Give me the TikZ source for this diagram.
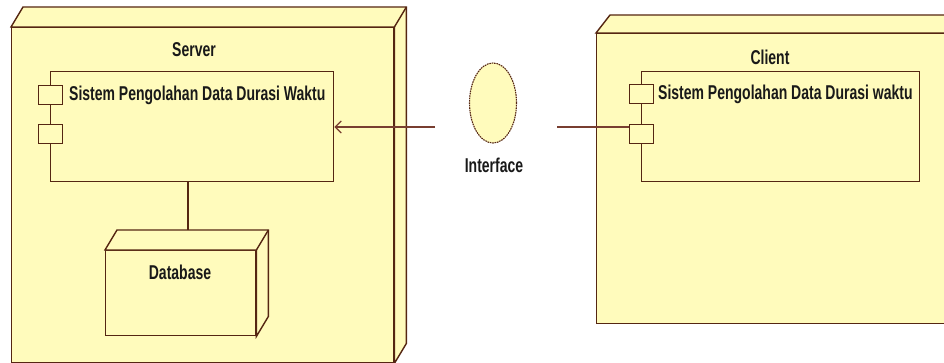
\documentclass[tikz,border=0pt]{standalone}
\usepackage{fontspec}
\setmainfont{Liberation Sans}[FakeStretch=0.70]
\usetikzlibrary{arrows.meta,shapes.geometric}

\definecolor{nodefill}{RGB}{255,251,188}
\definecolor{edgebrown}{RGB}{85,38,18}
\definecolor{wirebrown}{RGB}{120,62,48}

\tikzset{
  boxline/.style={draw=edgebrown, line width=1.4pt, fill=nodefill, line join=miter},
  frontface/.style={boxline, anchor=north west, inner sep=0pt},
  lbl/.style={font=\fontsize{20}{20}\selectfont\bfseries, text=black!90, inner sep=0pt},
  port/.style={boxline, anchor=north west, inner sep=0pt, minimum width=24pt, minimum height=19pt},
  wireline/.style={draw=wirebrown, line width=1.4pt},
}

\begin{document}
\begin{tikzpicture}[x=1pt,y=-1pt]
\useasboundingbox (0,0) rectangle (944,363);
\clip (0,0) rectangle (944,363);

% ---------- Server node ----------
\node[frontface, minimum width=382pt, minimum height=335pt] (server) at (11,27) {};
\draw[boxline] (server.north west) -- ([shift={(12,-20)}]server.north west)
  -- ([shift={(12,-20)}]server.north east) -- ([shift={(12,-20)}]server.south east)
  -- (server.south east) -- (server.north east) -- cycle;
\draw[boxline] (server.north east) -- ([shift={(12,-20)}]server.north east);
\node[lbl, anchor=base] (serverlbl) at (194,57) {Server};

% server component
\node[frontface, minimum width=283pt, minimum height=110pt] (scomp) at (50,71) {};
\node[port] (sport1) at (38,85) {};
\node[port] (sport2) at (38,124) {};
\node[lbl, anchor=base west] (scomptext) at (69,101) {Sistem Pengolahan Data Durasi Waktu};

% ---------- Database node ----------
\node[frontface, minimum width=150pt, minimum height=85pt] (db) at (105,250) {};
\draw[boxline] (db.north west) -- ([shift={(12,-20)}]db.north west)
  -- ([shift={(12,-20)}]db.north east) -- ([shift={(12,-20)}]db.south east)
  -- (db.south east) -- (db.north east) -- cycle;
\draw[boxline] (db.north east) -- ([shift={(12,-20)}]db.north east);
\node[lbl, anchor=base] (dblbl) at (180,279) {Database};
\coordinate (dbtop) at (188,230);
\draw[boxline] (scomp.south -| dbtop) -- (dbtop);

% ---------- Client node ----------
\node[frontface, minimum width=380pt, minimum height=290pt] (client) at (596,33) {};
\draw[boxline] (client.north west) -- ([shift={(14,-18)}]client.north west)
  -- ([shift={(14,-18)}]client.north east) -- ([shift={(14,-18)}]client.south east)
  -- (client.south east) -- (client.north east) -- cycle;
\node[lbl, anchor=base] (clientlbl) at (770,65) {Client};

% client component
\node[frontface, minimum width=278pt, minimum height=110pt] (ccomp) at (641,71) {};
\node[port] (cport1) at (629,84) {};
\node[port] (cport2) at (629,124) {};
\node[lbl, anchor=base west] (ccomptext) at (658,100) {Sistem Pengolahan Data Durasi waktu};

% ---------- Interface ----------
\node[ellipse, draw=edgebrown, dash pattern=on 1.6pt off 0.8pt, line width=1.1pt, fill=nodefill,
      minimum width=47pt, minimum height=80pt, inner sep=0pt] (iface) at (493,103) {};
\node[lbl, anchor=base] (ifacelbl) at (494,173) {Interface};

\coordinate (wireL) at (435,127);
\coordinate (wireR) at (557,127);
\draw[wireline, -{Straight Barb[length=6pt, width=12pt, line width=1.2pt]}]
  (wireL) -- (scomp.east |- wireL);
\draw[wireline] (wireR) -- (cport2.west |- wireR);
\end{tikzpicture}
\end{document}
